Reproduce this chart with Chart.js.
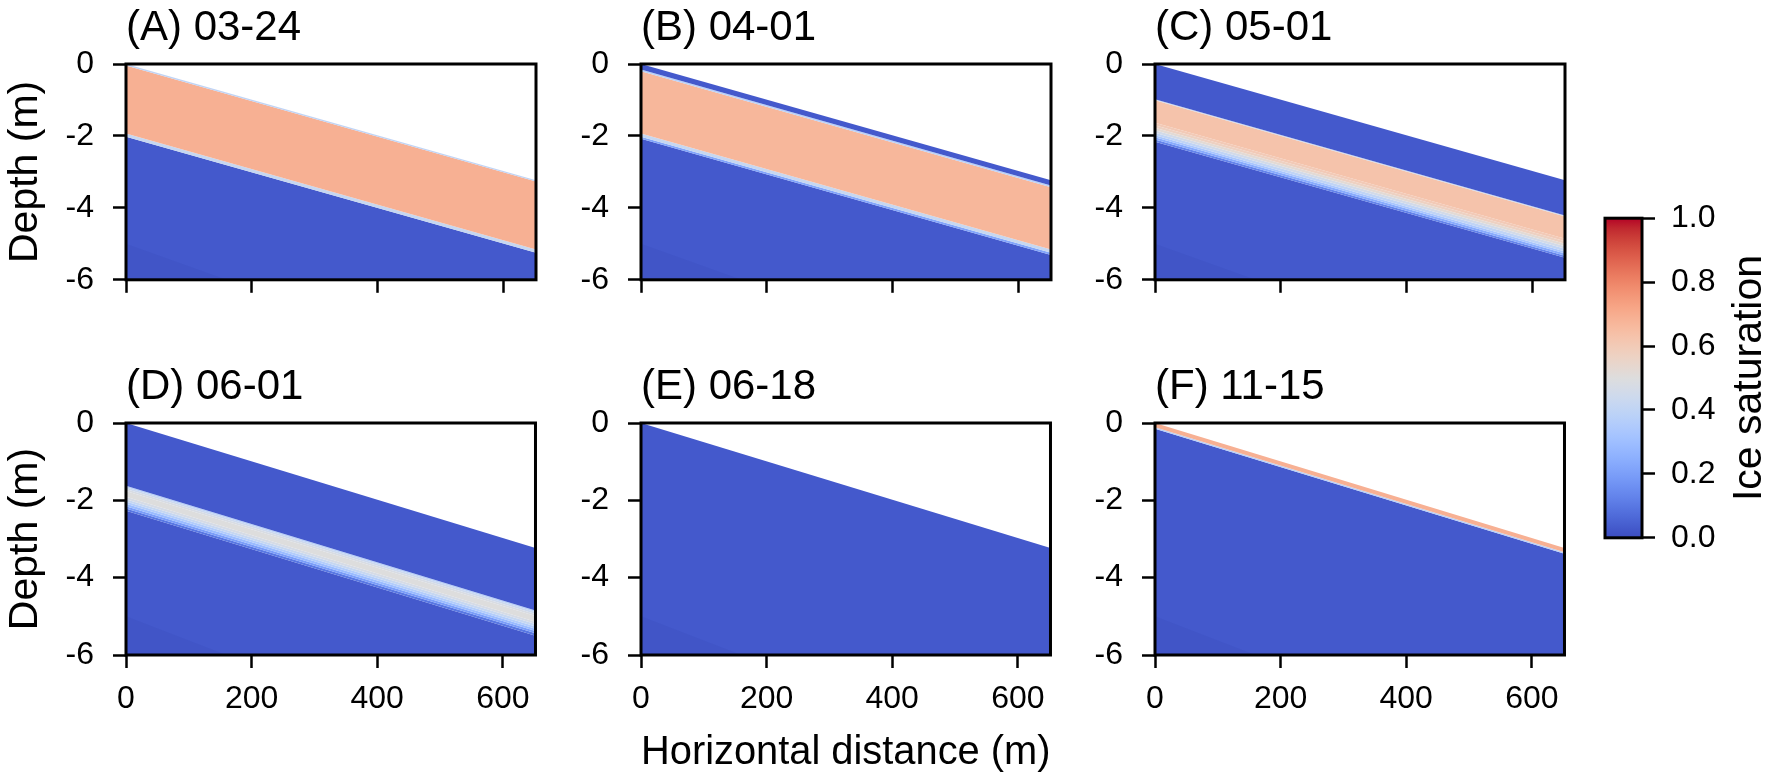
<!DOCTYPE html>
<html>
<head>
<meta charset="utf-8">
<script src="https://cdn.jsdelivr.net/npm/chart.js@4.4.1/dist/chart.umd.min.js"></script>
<style>
    html, body { margin: 0; padding: 0; background: #fff; }
    body { width: 1772px; height: 777px; position: relative; overflow: hidden; }
    canvas { position: absolute; }
</style>
</head>
<body>
<canvas id="panel0"></canvas>
<canvas id="panel1"></canvas>
<canvas id="panel2"></canvas>
<canvas id="panel3"></canvas>
<canvas id="panel4"></canvas>
<canvas id="panel5"></canvas>
<canvas id="colorbar"></canvas>
<script>
// ===== Data =====
const xEdges = [0, 652];              // horizontal ends of the slope (m)
const surfaceDepth = [0, -3.23];      // ground surface elevation at those ends (m)
const xTicks = [0, 200, 400, 600];
const yTicks = [0, -2, -4, -6];
const cbTicks = [0, 0.2, 0.4, 0.6, 0.8, 1.0];

const panelTitles = ['(A) 03-24', '(B) 04-01', '(C) 05-01', '(D) 06-01', '(E) 06-18', '(F) 11-15'];

// layer boundaries (m below surface) and ice saturation of each layer between them
const layersA = [0, 0.04, 1.93, 2.02, 12];
const iceA = [0.40, 0.69, 0.42, 0.03];
const layersB = [0, 0.15, 0.20, 1.93, 2.02, 2.08, 12];
const iceB = [0.03, 0.38, 0.67, 0.42, 0.22, 0.03];
const layersC = [0, 0.98, 1.01, 1.63, 1.70, 1.77, 1.84, 1.91, 1.98, 2.04, 2.10, 2.16, 12];
const iceC = [0.03, 0.45, 0.63, 0.60, 0.57, 0.52, 0.46, 0.40, 0.33, 0.24, 0.13, 0.03];
const layersD = [0, 1.62, 1.66, 1.71, 1.76, 1.91, 1.97, 2.03, 2.09, 2.15, 2.21, 2.27, 12];
const iceD = [0.03, 0.38, 0.44, 0.48, 0.50, 0.47, 0.42, 0.36, 0.29, 0.20, 0.10, 0.03];
const layersE = [0, 12];
const iceE = [0.03];
const layersF = [0, 0.11, 0.15, 12];
const iceF = [0.69, 0.38, 0.03];

// finer mesh zone in the lower-left corner
const meshX = [0, 160];
const meshY = [-5.0, -6.0];

// matplotlib coolwarm, 33 steps from 0 to 1
const coolwarm = [
    [59, 76, 192], [68, 90, 204], [77, 104, 215], [87, 117, 225], [98, 130, 234],
    [108, 142, 241], [119, 154, 247], [130, 165, 251], [141, 176, 254], [152, 185, 255],
    [163, 194, 255], [174, 201, 253], [184, 208, 249], [194, 213, 244], [204, 217, 238],
    [213, 219, 230], [221, 221, 221], [229, 216, 209], [236, 211, 197], [241, 204, 185],
    [245, 196, 173], [247, 187, 160], [247, 177, 148], [247, 166, 135], [244, 154, 123],
    [241, 141, 111], [236, 127, 99], [229, 112, 88], [222, 96, 77], [213, 80, 66],
    [203, 62, 56], [192, 40, 47], [180, 4, 38]
];

function cmap(v) {
    const t = Math.max(0, Math.min(1, v)) * (coolwarm.length - 1);
    const i = Math.min(Math.floor(t), coolwarm.length - 2);
    const f = t - i;
    const a = coolwarm[i], b = coolwarm[i + 1];
    const c = a.map((ch, k) => Math.round(ch + (b[k] - ch) * f));
    return `rgb(${c[0]},${c[1]},${c[2]})`;
}

Chart.defaults.font.family = '"Liberation Sans", Arial, sans-serif';
Chart.defaults.color = '#000';

// ===== Plugins =====
const framePlugin = {
    id: 'frame',
    afterDatasetsDraw(chart) {
        const { ctx, chartArea: a } = chart;
        ctx.save();
        ctx.strokeStyle = '#000';
        ctx.lineWidth = 3;
        ctx.strokeRect(a.left, a.top, a.right - a.left, a.bottom - a.top);
        ctx.restore();
    }
};

const panelTitlePlugin = {
    id: 'panelTitle',
    afterDraw(chart, args, opts) {
        if (!opts.text) return;
        const { ctx, chartArea: a } = chart;
        ctx.save();
        ctx.font = '42px "Liberation Sans", Arial, sans-serif';
        ctx.fillStyle = '#000';
        ctx.textAlign = 'left';
        ctx.textBaseline = 'alphabetic';
        ctx.fillText(opts.text, a.left, a.top - 24);
        ctx.restore();
    }
};

const sideLabelPlugin = {
    id: 'sideLabel',
    afterDraw(chart, args, opts) {
        if (!opts.text) return;
        const { ctx, chartArea: a } = chart;
        ctx.save();
        ctx.translate(opts.x, (a.top + a.bottom) / 2);
        ctx.rotate(-Math.PI / 2);
        ctx.font = '41px "Liberation Sans", Arial, sans-serif';
        ctx.fillStyle = '#000';
        ctx.textAlign = 'center';
        ctx.textBaseline = 'middle';
        ctx.fillText(opts.text, 0, 0);
        ctx.restore();
    }
};

// ===== Layout =====
const colLeft = [126, 641, 1155];
const rowTop = [64, 423];
const plotW = 410, plotH = 232, yAxisW = 126, topPad = 64;

const tickGrid = {
    drawOnChartArea: false,
    drawTicks: true,
    tickLength: 13,
    tickWidth: 2.5,
    tickColor: '#000'
};

function bandDatasets(depths, ice) {
    const sets = [{
        data: meshX.map((x, i) => ({ x, y: meshY[i] })),
        fill: 'start',
        backgroundColor: 'rgba(30,40,140,0.07)',
        borderColor: 'transparent',
        borderWidth: 0,
        pointRadius: 0
    }];
    depths.forEach((d, k) => {
        sets.push({
            data: xEdges.map((x, i) => ({ x, y: surfaceDepth[i] - d })),
            fill: k === 0 ? false : '-1',
            backgroundColor: k === 0 ? 'transparent' : cmap(ice[k - 1]),
            borderColor: 'transparent',
            borderWidth: 0,
            pointRadius: 0
        });
    });
    return sets;
}

function renderPanel(idx, depths, ice) {
    const row = Math.floor(idx / 3), col = idx % 3;
    const bottomRow = row === 1;
    const xAxisH = bottomRow ? 122 : 22;
    const canvas = document.getElementById('panel' + idx);
    canvas.width = yAxisW + plotW + 6;
    canvas.height = topPad + plotH + xAxisH;
    canvas.style.left = (colLeft[col] - yAxisW) + 'px';
    canvas.style.top = (rowTop[row] - topPad) + 'px';

    new Chart(canvas.getContext('2d'), {
        type: 'line',
        data: { datasets: bandDatasets(depths, ice) },
        options: {
            responsive: false,
            animation: false,
            events: [],
            layout: { padding: { top: topPad, right: 6, left: 0, bottom: 0 } },
            plugins: {
                legend: { display: false },
                tooltip: { enabled: false },
                panelTitle: { text: panelTitles[idx] }
            },
            scales: {
                x: {
                    type: 'linear',
                    min: xEdges[0],
                    max: xEdges[1],
                    afterBuildTicks: s => { s.ticks = xTicks.map(v => ({ value: v })); },
                    afterFit: s => { s.height = xAxisH; },
                    grid: tickGrid,
                    border: { display: false },
                    ticks: { display: bottomRow, font: { size: 32 }, padding: 12, maxRotation: 0 },
                    title: {
                        display: idx === 4,
                        text: 'Horizontal distance (m)',
                        font: { size: 41 },
                        padding: { top: 0, bottom: 0 }
                    }
                },
                y: {
                    type: 'linear',
                    min: -6,
                    max: 0,
                    afterBuildTicks: s => { s.ticks = yTicks.map(v => ({ value: v })); },
                    afterFit: s => { s.width = yAxisW; },
                    grid: tickGrid,
                    border: { display: false },
                    ticks: { font: { size: 32 }, padding: 19 },
                    title: {
                        display: col === 0,
                        text: 'Depth (m)',
                        font: { size: 41 },
                        padding: { top: 1, bottom: 0 }
                    }
                }
            }
        },
        plugins: [framePlugin, panelTitlePlugin]
    });
}

function renderColorbar() {
    const canvas = document.getElementById('colorbar');
    canvas.width = 172;
    canvas.height = 390;
    canvas.style.left = '1600px';
    canvas.style.top = '183px';

    new Chart(canvas.getContext('2d'), {
        type: 'bar',
        data: {
            labels: [''],
            datasets: [{
                data: [1],
                barPercentage: 1,
                categoryPercentage: 1,
                borderWidth: 0,
                backgroundColor: c => {
                    const a = c.chart.chartArea;
                    if (!a) return cmap(0.5);
                    const g = c.chart.ctx.createLinearGradient(0, a.bottom, 0, a.top);
                    coolwarm.forEach((rgb, i) => g.addColorStop(i / (coolwarm.length - 1), `rgb(${rgb.join(',')})`));
                    return g;
                }
            }]
        },
        options: {
            responsive: false,
            animation: false,
            events: [],
            layout: { padding: { top: 20, bottom: 24, left: 5, right: 0 } },
            plugins: {
                legend: { display: false },
                tooltip: { enabled: false },
                sideLabel: { text: 'Ice saturation', x: 150 }
            },
            scales: {
                x: { display: false },
                y: {
                    position: 'right',
                    min: 0,
                    max: 1,
                    afterBuildTicks: s => { s.ticks = cbTicks.map(v => ({ value: v })); },
                    afterFit: s => { s.width = 130; },
                    grid: tickGrid,
                    border: { display: false },
                    ticks: { font: { size: 32 }, padding: 16, callback: v => v.toFixed(1) }
                }
            }
        },
        plugins: [framePlugin, sideLabelPlugin]
    });
}

renderPanel(0, layersA, iceA);
renderPanel(1, layersB, iceB);
renderPanel(2, layersC, iceC);
renderPanel(3, layersD, iceD);
renderPanel(4, layersE, iceE);
renderPanel(5, layersF, iceF);
renderColorbar();
</script>
</body>
</html>
